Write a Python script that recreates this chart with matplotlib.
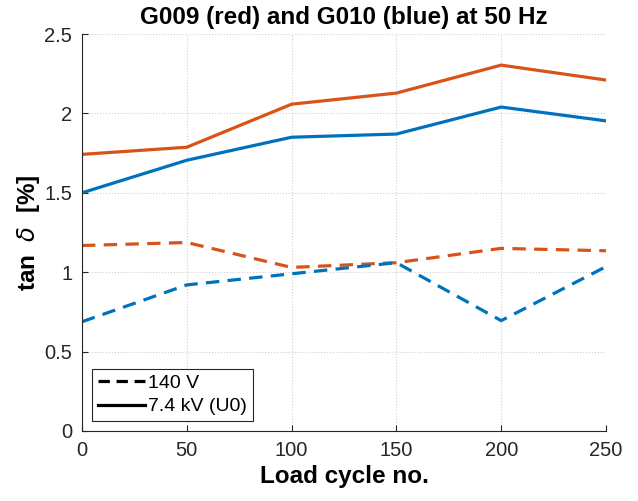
import numpy as np
import matplotlib
matplotlib.use('Agg')
import matplotlib.pyplot as plt
from matplotlib.lines import Line2D

cycles = [0, 50, 100, 150, 200, 250]
g009_u0 = [1.742, 1.787, 2.058, 2.128, 2.304, 2.21]
g010_u0 = [1.50, 1.705, 1.85, 1.87, 2.04, 1.953]
g009_140 = [1.168, 1.187, 1.03, 1.06, 1.15, 1.135]
g010_140 = [0.688, 0.92, 0.99, 1.06, 0.695, 1.035]

xticks = [0, 50, 100, 150, 200, 250]
yticks = [0, 0.5, 1, 1.5, 2, 2.5]
yticklabels = ['0', '0.5', '1', '1.5', '2', '2.5']

red = '#D95319'
blue = '#0072BD'
axcol = '#262626'

plt.rcParams['font.family'] = ['Liberation Sans', 'DejaVu Sans']
plt.rcParams['mathtext.fontset'] = 'dejavusans'

fig = plt.figure(figsize=(6.38, 5.01), dpi=100)
ax = fig.add_axes([82/638, 70/501, 524/638, 397/501])

lw = 2.3
dash = (0, (4.2, 2.6))
ax.plot(cycles, g009_u0, color=red, lw=lw)
ax.plot(cycles, g010_u0, color=blue, lw=lw)
ax.plot(cycles, g009_140, color=red, lw=lw, ls=dash)
ax.plot(cycles, g010_140, color=blue, lw=lw, ls=dash)

ax.set_xlim(0, 250)
ax.set_ylim(0, 2.5)
ax.set_xticks(xticks)
ax.set_yticks(yticks)
ax.set_yticklabels(yticklabels)
ax.grid(True, ls=':', color='#d0d0d0', lw=0.8)
ax.set_axisbelow(True)

for s in ['top', 'right']:
    ax.spines[s].set_visible(False)
for s in ['left', 'bottom']:
    ax.spines[s].set_color(axcol)
    ax.spines[s].set_linewidth(0.8)
ax.tick_params(direction='in', length=4, colors=axcol, labelsize=14.5, labelcolor='#262626', pad=7)

ax.set_title('G009 (red) and G010 (blue) at 50 Hz', fontsize=17.5, fontweight='bold', pad=7)
ax.set_xlabel('Load cycle no.', fontsize=17.5, fontweight='bold', labelpad=4)
ax.set_ylabel(r'tan  $\delta$  [%]', fontsize=17.5, fontweight='bold', labelpad=2)

handles = [Line2D([0], [0], color='k', lw=2.3, ls=(0, (3.55, 2.1))),
           Line2D([0], [0], color='k', lw=2.3)]
leg = ax.legend(handles, ['140 V', '7.4 kV (U0)'], loc='lower left', fontsize=14,
                frameon=True, fancybox=False, framealpha=1, edgecolor=axcol,
                handlelength=2.45, handletextpad=0.15, borderpad=0.3, labelspacing=0.3,
                borderaxespad=0.5)
leg.get_frame().set_linewidth(0.8)

fig.savefig('out.png', dpi=100)
